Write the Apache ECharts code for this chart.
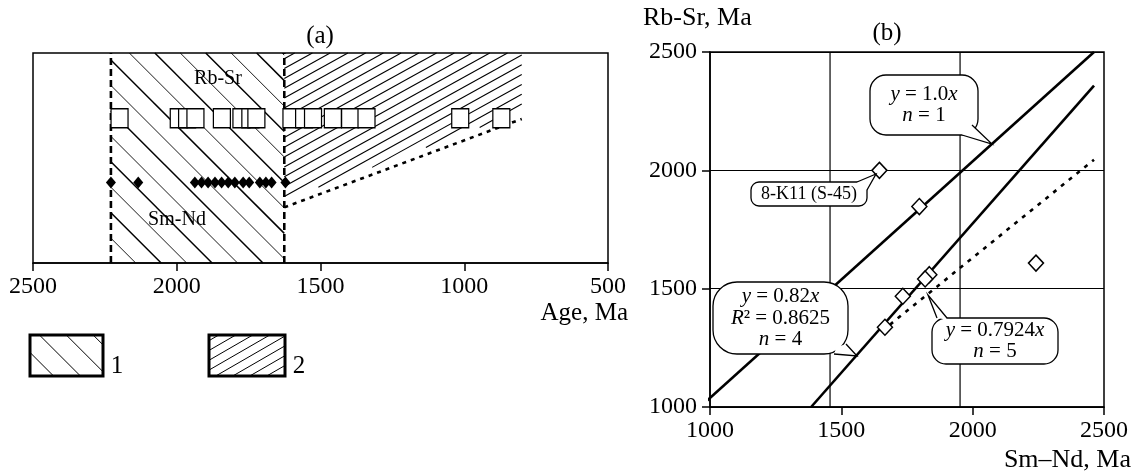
<!DOCTYPE html>
<html><head><meta charset="utf-8">
<script src="https://cdn.jsdelivr.net/npm/echarts@6/dist/echarts.min.js"></script>
<style>html,body{margin:0;padding:0;background:#fff}#c{width:1134px;height:472px}</style>
</head><body><div id="c"></div>
<script>
// ---------------- data: panel (a) ----------------
const ageRange = [500, 2500];
const ageInterval = 500;
const rbSrAges = [2199,1993,1964,1935,1843,1775,1744,1723,1601,1557,1526,1457,1397,1340,1014,871];
const smNdAges = [2229,2134,1937,1914,1891,1867,1844,1821,1798,1769,1748,1711,1690,1670,1622];
const rbSrRow = 0.689;   // relative row height of Rb-Sr squares
const smNdRow = 0.383;   // relative row height of Sm-Nd diamonds
const zone1Poly = [[2229,0],[2229,1],[1626,1],[1626,0]];
const zone2Poly = [[1626,1],[800,1],[800,0.72],[1626,0.30]];
const intervalBounds = [2229, 1626];
const zone2Edge = [[1626,0.265],[800,0.686]];

// ---------------- data: panel (b) ----------------
const axisRangeB = [1000, 2500];
const smNdPts = [1645,1797,2241,1835,1819,1734,1666];
const rbSrPts = [2000,1847,1608,1559,1541,1468,1337];
const lineA = [[962,1000],[2462,2500]];   // y = 1.0x
const lineB = [[1385,1000],[2462,2358]];  // y = 0.82x
const lineC = [[1685,1348],[2462,2045]];  // y = 0.7924x (dashed)
const gridX = [1457, 1952];

const F = 'Liberation Serif';

function hatch(poly, angleDeg, spacing, widths, z) {
  const a = angleDeg * Math.PI / 180;
  const d = [Math.cos(a), Math.sin(a)];
  const n = [-d[1], d[0]];
  const proj = poly.map(p => p[0]*n[0] + p[1]*n[1]);
  const cmin = Math.min(...proj), cmax = Math.max(...proj);
  const k0 = Math.ceil(cmin/spacing), k1 = Math.floor(cmax/spacing);
  const out = [];
  for (let k = k0; k <= k1; k++) {
    const c = k*spacing;
    const base = [c*n[0], c*n[1]];
    const ts = [];
    for (let i = 0; i < poly.length; i++) {
      const A = poly[i], B = poly[(i+1) % poly.length];
      const e = [B[0]-A[0], B[1]-A[1]];
      const den = d[0]*e[1] - d[1]*e[0];
      if (Math.abs(den) < 1e-9) continue;
      const w = [A[0]-base[0], A[1]-base[1]];
      const t = (w[0]*e[1] - w[1]*e[0]) / den;
      const s = (w[0]*d[1] - w[1]*d[0]) / den;
      if (s >= -1e-9 && s <= 1+1e-9) ts.push(t);
    }
    if (ts.length < 2) continue;
    const t0 = Math.min(...ts), t1 = Math.max(...ts);
    if (t1 - t0 < 0.5) continue;
    const lw = widths[((k % widths.length) + widths.length) % widths.length];
    const el = {type:'line', shape:{x1:base[0]+t0*d[0], y1:base[1]+t0*d[1], x2:base[0]+t1*d[0], y2:base[1]+t1*d[1]},
      style:{stroke:'#000', lineWidth:lw}};
    if (z !== undefined) el.z = z;
    out.push(el);
  }
  return out;
}

const zones = [
  {poly: zone1Poly, angle: 45, spacing: 18, widths: [1.5, 0.9]},
  {poly: zone2Poly, angle: -29, spacing: 8.6, widths: [1.1]}
];

function callout(x, y, w, h, r, b1, b2, tip, text, fs, lh) {
  const cx = x + w/2, cy = y + h/2;
  const mx = (b1[0]+b2[0])/2, my = (b1[1]+b2[1])/2;
  const len = Math.hypot(cx-mx, cy-my) || 1;
  const inner = [mx + (cx-mx)/len*4, my + (cy-my)/len*4];
  return [
    {type:'rect', z:100, shape:{x, y, width:w, height:h, r}, style:{fill:'#fff', stroke:'#000', lineWidth:1.3}},
    {type:'polygon', z:101, shape:{points:[b1, tip, b2, inner]}, style:{fill:'#fff'}},
    {type:'polyline', z:102, shape:{points:[b1, tip, b2]}, style:{stroke:'#000', lineWidth:1.3, fill:null}},
    {type:'text', z:103, x: cx, y: cy, style:{text, fontFamily:F, fontSize:fs, lineHeight:lh, fill:'#000',
      align:'center', verticalAlign:'middle', textAlign:'center', textVerticalAlign:'middle',
      rich:{i:{fontStyle:'italic', fontFamily:F, fontSize:fs, lineHeight:lh, fill:'#000'}}}}
  ];
}

function txt(x, y, text, fs, align) {
  return {type:'text', z:100, x, y, style:{text, fontFamily:F, fontSize:fs, fill:'#000',
    align: align||'center', verticalAlign:'middle', textAlign: align||'center', textVerticalAlign:'middle'}};
}

const legendBoxes = [
  {x:30, y:335, w:73, h:41, angle:45, spacing:19, label:'1'},
  {x:209, y:335, w:76, h:41, angle:-30, spacing:8.5, label:'2'}
];
let legendEls = [];
legendBoxes.forEach(b => {
  const poly = [[b.x,b.y],[b.x+b.w,b.y],[b.x+b.w,b.y+b.h],[b.x,b.y+b.h]];
  legendEls = legendEls.concat(hatch(poly, b.angle, b.spacing, [1], 50));
  legendEls.push({type:'rect', z:51, shape:{x:b.x, y:b.y, width:b.w, height:b.h}, style:{fill:null, stroke:'#000', lineWidth:3}});
  legendEls.push(txt(b.x + b.w + 14, b.y + 31, b.label, 25));
});

const graphics = [].concat(
  [txt(320, 36, '(a)', 25), txt(887, 33, '(b)', 25),
   txt(628, 313, 'Age, Ma', 25, 'right'),
   txt(643, 18, 'Rb-Sr, Ma', 26, 'left'),
   txt(1131, 460, 'Sm\u2013Nd, Ma', 26, 'right'),
   txt(218, 79, 'Rb-Sr', 20), txt(177, 220, 'Sm-Nd', 20)],
  legendEls,
  callout(870, 75, 108, 60, 16, [972,125], [962,135], [992,144], '{i|y} = 1.0{i|x}\n{i|n} = 1', 21, 21),
  callout(751, 182, 116, 24, 8, [857,182], [867,190], [876,174], '8-K11 (S-45)', 18, 18),
  callout(713, 282, 135, 72, 24, [834,354], [846,344], [857,356], '{i|y} = 0.82{i|x}\n{i|R}\u00b2 = 0.8625\n{i|n} = 4', 21, 21.5),
  callout(932, 318, 126, 46, 14, [937,318], [947,318], [928,295], '{i|y} = 0.7924{i|x}\n{i|n} = 5', 21, 21.5)
);

const plain = v => String(v);
const blackAxis = {lineStyle:{color:'#000', width:1.5}};
const series = [
  {type:'custom', xAxisIndex:0, yAxisIndex:0, z:1,
   data: zones.map((zn, i) => [zn.poly[0][0], zn.poly[0][1], i]),
   renderItem: function(params, api) {
     const zn = zones[api.value(2)];
     const px = zn.poly.map(p => api.coord(p));
     return {type:'group', children: hatch(px, zn.angle, zn.spacing, zn.widths)};
   }}
];
intervalBounds.forEach(x => series.push({type:'line', xAxisIndex:0, yAxisIndex:0, z:3, symbol:'none',
  data:[[x,0],[x,1]], lineStyle:{color:'#000', width:2.6, type:[7,4]}}));
series.push({type:'line', xAxisIndex:0, yAxisIndex:0, z:3, symbol:'none', data: zone2Edge,
  lineStyle:{color:'#000', width:2.6, type:[4,5]}});
series.push({type:'scatter', xAxisIndex:0, yAxisIndex:0, z:5, symbol:'rect', symbolSize:[17,19],
  data: rbSrAges.map(a => [a, rbSrRow]), itemStyle:{color:'#fff', opacity:1, borderColor:'#000', borderWidth:1.3}});
series.push({type:'scatter', xAxisIndex:0, yAxisIndex:0, z:5, symbol:'diamond', symbolSize:[10,12],
  data: smNdAges.map(a => [a, smNdRow]), itemStyle:{color:'#000', opacity:1}});
// panel b
gridX.forEach(x => series.push({type:'line', xAxisIndex:1, yAxisIndex:1, z:2, symbol:'none',
  data:[[x, axisRangeB[0]],[x, axisRangeB[1]]], lineStyle:{color:'#000', width:1.2}}));
series.push({type:'line', xAxisIndex:1, yAxisIndex:1, z:3, symbol:'none', clip:false, data: lineA,
  lineStyle:{color:'#000', width:2.6}});
series.push({type:'line', xAxisIndex:1, yAxisIndex:1, z:3, symbol:'none', clip:false, data: lineB,
  lineStyle:{color:'#000', width:2.6}});
series.push({type:'line', xAxisIndex:1, yAxisIndex:1, z:3, symbol:'none', data: lineC,
  lineStyle:{color:'#000', width:2.6, type:[4,6]}});
series.push({type:'scatter', xAxisIndex:1, yAxisIndex:1, z:5, symbol:'diamond', symbolSize:[15,16],
  data: smNdPts.map((x, i) => [x, rbSrPts[i]]), itemStyle:{color:'#fff', opacity:1, borderColor:'#000', borderWidth:1.5}});

const chart = echarts.init(document.getElementById('c'), null, {renderer:'canvas'});
chart.setOption({
  animation:false,
  backgroundColor:'#fff',
  grid:[
    {left:33, top:53, width:575, height:210, show:true, borderColor:'#000', borderWidth:1.5, backgroundColor:'transparent'},
    {left:710, top:52, width:394, height:355, show:true, borderColor:'#000', borderWidth:1.5, backgroundColor:'transparent'}
  ],
  xAxis:[
    {gridIndex:0, type:'value', min:ageRange[0], max:ageRange[1], interval:ageInterval, inverse:true,
     axisLine:blackAxis, axisTick:{length:8, lineStyle:{color:'#000', width:1.5}},
     axisLabel:{color:'#000', fontFamily:F, fontSize:24, margin:12, formatter:plain}, splitLine:{show:false}},
    {gridIndex:1, type:'value', min:axisRangeB[0], max:axisRangeB[1], interval:500,
     axisLine:blackAxis, axisTick:{length:8, lineStyle:{color:'#000', width:1.5}},
     axisLabel:{color:'#000', fontFamily:F, fontSize:24, margin:12, formatter:plain}, splitLine:{show:false}}
  ],
  yAxis:[
    {gridIndex:0, type:'value', min:0, max:1, show:false},
    {gridIndex:1, type:'value', min:axisRangeB[0], max:axisRangeB[1], interval:500,
     axisLine:blackAxis, axisTick:{length:8, lineStyle:{color:'#000', width:1.5}},
     axisLabel:{color:'#000', fontFamily:F, fontSize:24, margin:13, formatter:plain},
     splitLine:{show:true, lineStyle:{color:'#000', width:1.2}}}
  ],
  graphic: graphics,
  series: series
});
</script>
</body></html>
